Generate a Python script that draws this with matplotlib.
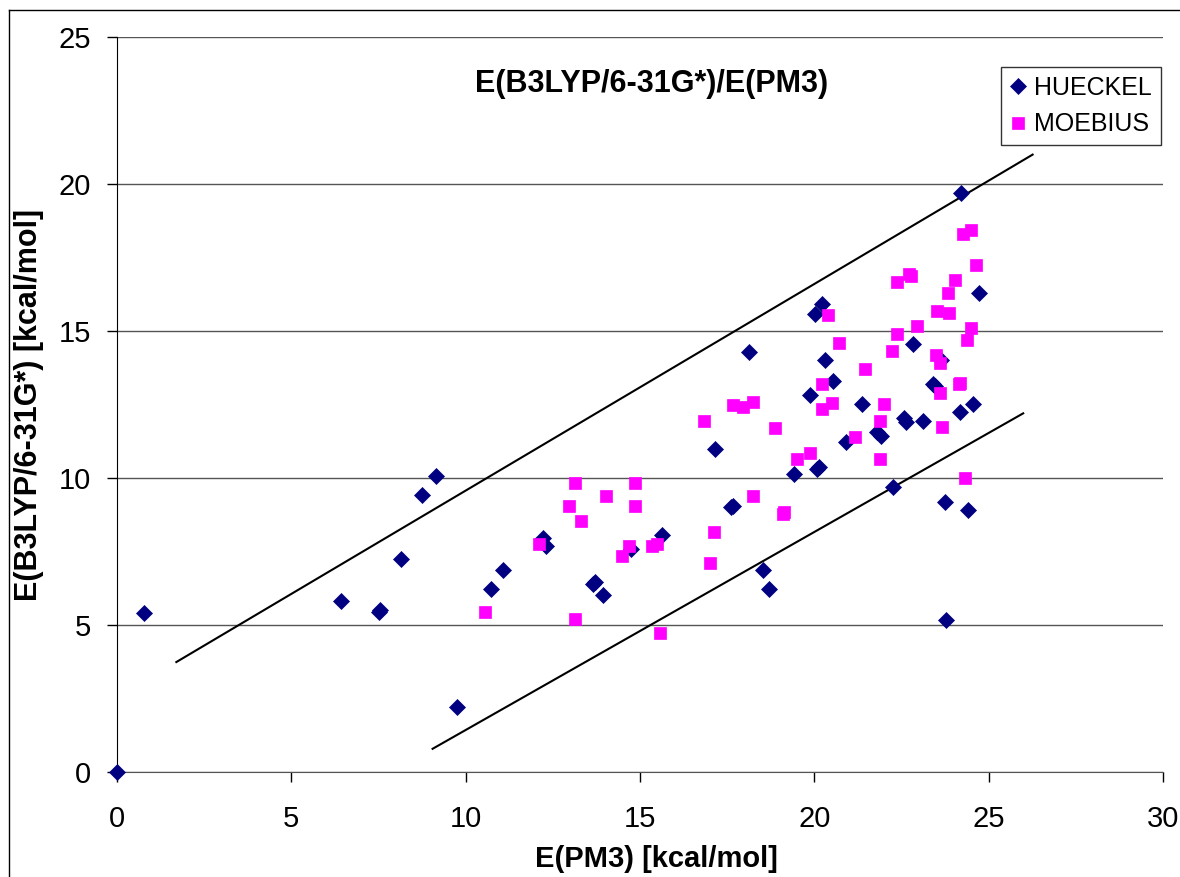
import matplotlib.pyplot as plt
from matplotlib.lines import Line2D

plt.rcParams['font.family'] = ['Liberation Sans', 'DejaVu Sans']

# HUECKEL series (x = E(PM3), y = E(B3LYP/6-31G*))
hueckel_x = [0.0, 0.78, 6.41, 7.52, 7.55, 8.13, 8.74, 9.14, 9.74, 10.73, 11.08,
             12.23, 12.29, 13.66, 13.70, 13.94, 14.73, 15.62, 17.15, 17.61, 17.66,
             18.13, 18.53, 18.70, 19.41, 19.87, 20.03, 20.08, 20.12, 20.22, 20.30,
             20.53, 20.90, 21.36, 21.79, 21.90, 22.25, 22.57, 22.63, 22.84, 23.12,
             23.41, 23.47, 23.62, 23.74, 23.79, 24.18, 24.22, 24.40, 24.56, 24.73]
hueckel_y = [0.0, 5.42, 5.82, 5.45, 5.50, 7.26, 9.42, 10.07, 2.21, 6.21, 6.87,
             7.95, 7.70, 6.38, 6.45, 6.01, 7.57, 8.06, 11.00, 9.02, 9.05,
             14.27, 6.87, 6.21, 10.15, 12.83, 15.58, 10.32, 10.38, 15.92, 14.01,
             13.30, 11.21, 12.51, 11.57, 11.44, 9.68, 12.05, 11.92, 14.55, 11.95,
             13.19, 13.12, 14.00, 9.17, 5.16, 12.24, 19.68, 8.90, 12.51, 16.30]

# MOEBIUS series
moebius_x = [10.55, 12.09, 12.97, 13.14, 13.14, 13.31, 14.02, 14.47, 14.69, 14.86,
             14.86, 15.35, 15.48, 15.58, 16.84, 17.02, 17.13, 17.67, 17.96, 18.23,
             18.23, 18.87, 19.14, 19.10, 19.51, 19.88, 20.22, 20.22, 20.38, 20.50,
             20.70, 21.16, 21.46, 21.88, 21.88, 22.00, 22.22, 22.38, 22.38, 22.72,
             22.76, 22.93, 23.48, 23.53, 23.60, 23.60, 23.65, 23.82, 23.87, 24.03,
             24.15, 24.18, 24.25, 24.32, 24.37, 24.48, 24.48, 24.65]
moebius_y = [5.45, 7.76, 9.06, 9.84, 5.19, 8.55, 9.39, 7.36, 7.70, 9.82,
             9.06, 7.70, 7.74, 4.74, 11.95, 7.10, 8.15, 12.47, 12.40, 12.57,
             9.40, 11.69, 8.83, 8.78, 10.63, 10.84, 13.20, 12.35, 15.55, 12.54,
             14.58, 11.38, 13.72, 11.95, 10.63, 12.51, 14.33, 14.90, 16.68, 16.94,
             16.87, 15.18, 14.18, 15.68, 13.92, 12.88, 11.74, 16.28, 15.62, 16.73,
             13.19, 13.24, 18.30, 10.01, 14.69, 15.09, 18.44, 17.26]

# bounding lines
upper_x = [1.70, 26.26]
upper_y = [3.74, 21.00]
lower_x = [9.05, 25.99]
lower_y = [0.79, 12.20]

x_ticks = [0, 5, 10, 15, 20, 25, 30]
y_ticks = [0, 5, 10, 15, 20, 25]

fig = plt.figure(figsize=(11.8, 8.77), dpi=100)
ax = fig.add_axes([0.0992, 0.1197, 0.8864, 0.8381])

# outer chart border (top and left visible)
fig.add_artist(Line2D([9/1180, 1.0], [1 - 10/877, 1 - 10/877], color='black', lw=1))
fig.add_artist(Line2D([9/1180, 9/1180], [0.0, 1 - 10/877], color='black', lw=1))

ax.set_xlim(0, 30)
ax.set_ylim(0, 25)
ax.set_yticks(y_ticks)
ax.set_xticks(x_ticks)
ax.grid(axis='y', color='#555555', lw=1)
ax.set_axisbelow(True)

ax.plot(upper_x, upper_y, color='black', lw=1.5)
ax.plot(lower_x, lower_y, color='black', lw=1.5)

ax.plot(hueckel_x, hueckel_y, linestyle='none', marker='D', markersize=8.3,
        markeredgewidth=0.5, color='#000080', label='HUECKEL', clip_on=False, zorder=3)
ax.plot(moebius_x, moebius_y, linestyle='none', marker='s', markersize=8.5,
        markeredgewidth=0.5, color='#FF00FF', label='MOEBIUS', zorder=3)

for s in ['top', 'right']:
    ax.spines[s].set_visible(False)
ax.spines['left'].set_color('black')
ax.spines['bottom'].set_color('#555555')
ax.tick_params(axis='both', direction='out', length=7, width=1, labelsize=21)
ax.tick_params(axis='y', pad=11.5)
ax.tick_params(axis='x', pad=17)

ax.set_xlabel('E(PM3) [kcal/mol]', fontsize=21, fontweight='bold')
ax.xaxis.set_label_coords(0.516, -0.099)
ax.set_ylabel('E(B3LYP/6-31G*) [kcal/mol]', fontsize=22, fontweight='bold')
ax.yaxis.set_label_coords(-0.070, 0.5)

ax.text(0.511, 0.936, 'E(B3LYP/6-31G*)/E(PM3)', transform=ax.transAxes,
        ha='center', va='center', fontsize=22, fontweight='bold')

leg = ax.legend(loc='upper right', bbox_to_anchor=(0.998, 0.959), fontsize=18,
                frameon=True, fancybox=False, edgecolor='black', handlelength=0.7,
                handletextpad=0.3, borderpad=0.35, labelspacing=0.5, borderaxespad=0)
leg.get_frame().set_linewidth(1)

fig.savefig('out.png', dpi=100)
